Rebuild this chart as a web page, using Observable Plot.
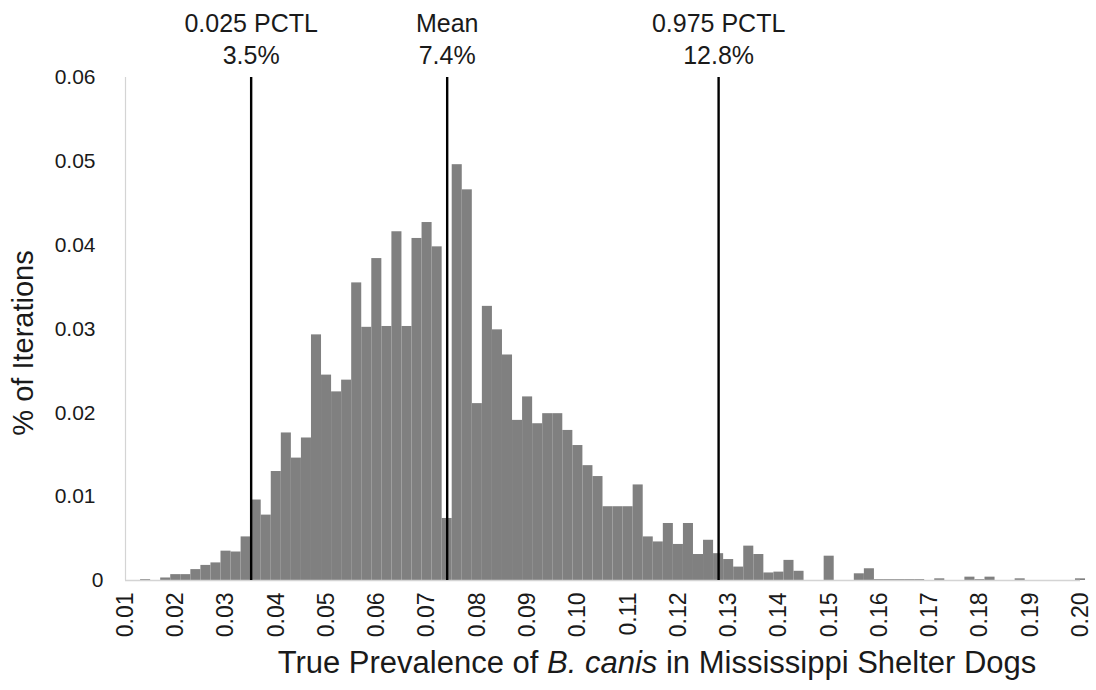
<!DOCTYPE html>
<html>
<head>
<meta charset="utf-8">
<script src="https://cdn.jsdelivr.net/npm/d3@7"></script>
<script src="https://cdn.jsdelivr.net/npm/@observablehq/plot@0.6"></script>
<style>
  html, body { margin: 0; padding: 0; background: #fff; }
  #chart { width: 1096px; height: 690px; }
</style>
</head>
<body>
<div id="chart"></div>
<script>
// Histogram bins: width 0.002, first bin starts at 0.013
const binWidth = 0.002;
const firstBinStart = 0.013;
const binHeights = [
  0.0001, 0, 0.0003, 0.0007, 0.0007, 0.0013, 0.0018, 0.0021, 0.0035, 0.0034,
  0.0052, 0.0096, 0.0078, 0.0130, 0.0176, 0.0146, 0.0170, 0.0293, 0.0245, 0.0225,
  0.0239, 0.0355, 0.0302, 0.0384, 0.0303, 0.0416, 0.0303, 0.0408, 0.0427, 0.0398,
  0.0074, 0.0496, 0.0466, 0.0211, 0.0327, 0.0299, 0.0269, 0.0191, 0.0219, 0.0187,
  0.0199, 0.0199, 0.0179, 0.0161, 0.0137, 0.0124, 0.0088, 0.0088, 0.0088, 0.0114,
  0.0052, 0.0046, 0.0068, 0.0043, 0.0068, 0.0031, 0.0048, 0.0032, 0.0025, 0.0016,
  0.0041, 0.0031, 0.0009, 0.0010, 0.0024, 0.0011, 0, 0, 0.0029, 0,
  0, 0.0008, 0.0014, 0.0001, 0.0001, 0.0001, 0.0001, 0.0001, 0, 0.0002,
  0, 0, 0.0004, 0.0001, 0.0004, 0, 0, 0.0002, 0, 0,
  0, 0, 0, 0.0002
];

// Reference lines
const refNames = ["0.025 PCTL", "Mean", "0.975 PCTL"];
const refValues = [0.035, 0.074, 0.128];
const refLabels = ["3.5%", "7.4%", "12.8%"];

// Tick labels
const xTicks = [0.01,0.02,0.03,0.04,0.05,0.06,0.07,0.08,0.09,0.10,0.11,0.12,0.13,0.14,0.15,0.16,0.17,0.18,0.19,0.20];
const yTicks = [0.01, 0.02, 0.03, 0.04, 0.05, 0.06];
const yZeroTick = [0];

const bins = binHeights.map((v, i) => ({
  x1: firstBinStart + i * binWidth,
  x2: firstBinStart + (i + 1) * binWidth,
  v
}));
const refs = refValues.map((v, i) => ({ v, name: refNames[i], pct: refLabels[i] }));

const font = "'Liberation Sans', Arial, Helvetica, sans-serif";
const ink = "#1a1a1a";

const svg = Plot.plot({
  width: 1096,
  height: 690,
  marginLeft: 125,
  marginRight: 16,
  marginTop: 77,
  marginBottom: 110,
  style: { fontFamily: font, color: ink, background: "#fff" },
  x: { type: "linear", domain: [0.01, 0.20] },
  y: { domain: [0, 0.06] },
  marks: [
    Plot.rectY(bins, { x1: "x1", x2: "x2", y: "v", fill: "#808080" }),
    Plot.ruleX([0.01], { stroke: "#d4d4d4", strokeWidth: 1.2 }),
    Plot.ruleY([0], { stroke: "#d4d4d4", strokeWidth: 1.5 }),
    Plot.ruleX(refs, { x: "v", stroke: "#000", strokeWidth: 2.4 }),
    Plot.text(refs, {
      x: "v", frameAnchor: "top",
      text: d => d.name + "\n" + d.pct,
      lineAnchor: "bottom", lineHeight: 1.28,
      dy: -14, fontSize: 25, fill: ink
    }),
    Plot.axisX({
      ticks: xTicks, tickFormat: d3.format(".2f"), tickRotate: -90,
      tickSize: 0, tickPadding: 12, fontSize: 23, label: null, fill: ink
    }),
    Plot.axisY({
      ticks: yTicks, tickFormat: d3.format(".2f"),
      tickSize: 0, tickPadding: 30, fontSize: 21, label: null, fill: ink
    }),
    Plot.axisY({
      ticks: yZeroTick, tickFormat: d => String(d),
      tickSize: 0, tickPadding: 22, fontSize: 21, label: null, fill: ink
    })
  ]
});

const s = d3.select(svg);
s.selectAll("text").each(function() {
  const g = this.closest("g");
  const lab = g ? (g.getAttribute("aria-label") || "") : "";
  if (lab.includes("x-axis")) this.style.fontSize = "23px";
  else if (lab.includes("y-axis")) this.style.fontSize = "21px";
});

const xt = s.append("text")
  .attr("x", 657).attr("y", 673)
  .attr("text-anchor", "middle")
  .attr("font-family", font).attr("font-size", 31).attr("fill", ink);
xt.append("tspan").text("True Prevalence of ");
xt.append("tspan").attr("font-style", "italic").text("B. canis");
xt.append("tspan").text(" in Mississippi Shelter Dogs");

s.append("text")
  .attr("transform", "translate(33,343) rotate(-90)")
  .attr("text-anchor", "middle")
  .attr("font-family", font).attr("font-size", 29).attr("fill", ink)
  .text("% of Iterations");

document.getElementById("chart").appendChild(svg);
</script>
</body>
</html>
